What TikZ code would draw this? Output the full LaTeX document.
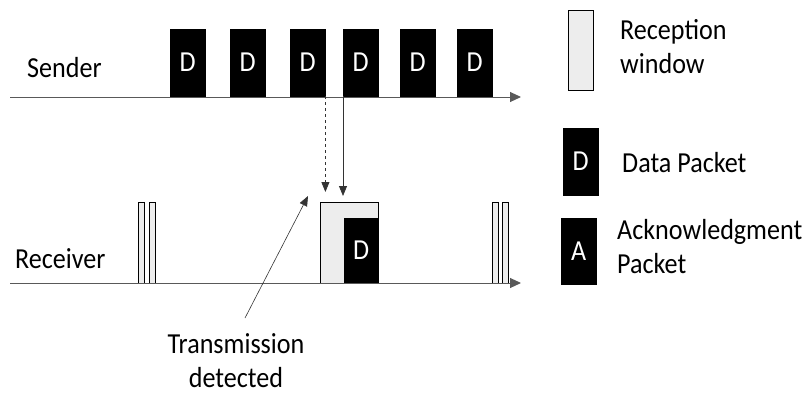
\documentclass[tikz,border=0pt]{standalone}
\usepackage{fontspec}
\setmainfont[FakeStretch=0.9]{Carlito}
\usetikzlibrary{arrows.meta}
\begin{document}
\begin{tikzpicture}[x=1pt,y=-1pt,
  lbl/.style={font=\fontsize{29}{34}\selectfont,align=left,inner sep=0pt},
  dpkt/.style={draw,fill=black,text=white,minimum width=35pt,minimum height=67pt,
    inner sep=0pt,anchor=south west,font=\fontsize{29}{30}\selectfont},
  win/.style={draw,fill=black!7,minimum width=58pt,minimum height=81pt,inner sep=0pt,anchor=south west},
  bar/.style={draw,fill=black!7,minimum width=6pt,minimum height=81pt,inner sep=0pt,anchor=south west},
  axis/.style={black!65,line width=1pt,-{Triangle[length=11pt,width=10pt]}},
  ptr/.style={black!80,line width=0.8pt,-{Triangle[length=10pt,width=8pt]}}]
  \useasboundingbox (0,0) rectangle (810,396);

  % sender
  \node[lbl,anchor=west] (snd) at (27,68) {Sender};
  \coordinate (sa) at (10,97);
  \coordinate (sb) at (521,97);
  \draw[axis] (sa) -- (sb);
  \node[dpkt] (s1) at (170,96) {D};
  \node[dpkt] (s2) at (230,96) {D};
  \node[dpkt] (s3) at (290,96) {D};
  \node[dpkt] (s4) at (343,96) {D};
  \node[dpkt] (s5) at (400,96) {D};
  \node[dpkt] (s6) at (457,96) {D};

  % receiver
  \node[lbl,anchor=west] (rcv) at (15,259) {Receiver};
  \coordinate (ra) at (10,283);
  \coordinate (rb) at (521,283);
  \node[bar] (b1) at (138,283) {};
  \node[bar] (b2) at (149,283) {};
  \node[bar] (b3) at (492,283) {};
  \node[bar] (b4) at (502,283) {};
  \node[win] (rw) at (320,283) {};
  \node[dpkt,minimum width=34pt,minimum height=65pt] (rd) at (344,283) {D};
  \draw[axis] (ra) -- (rb);

  % detection
  \coordinate (dh) at (s3.south east |- 0,192);
  \coordinate (sh) at (s4.south west |- 0,196);
  \draw[ptr,dashed] (s3.south east) -- (dh);
  \draw[ptr] (s4.south west) -- (sh);
  \node[lbl,align=center] (tx) at (236,361) {Transmission\\detected};
  \coordinate (ta) at (245,318);
  \coordinate (tb) at (308,196);
  \draw[ptr,line width=0.6pt] (ta) -- (tb);

  % legend
  \node[win,minimum width=25pt,minimum height=80pt] (lw) at (568,90) {};
  \node[lbl,anchor=west] (lwt) at (620,47) {Reception\\window};
  \node[dpkt] (ld) at (563,195) {D};
  \node[lbl,anchor=west] (ldt) at (622,163) {Data Packet};
  \node[dpkt,minimum height=66pt] (la) at (561,284) {A};
  \node[lbl,anchor=west] (lat) at (617,247) {Acknowledgment\\Packet};
\end{tikzpicture}
\end{document}
